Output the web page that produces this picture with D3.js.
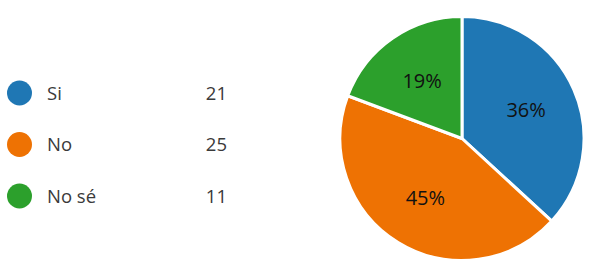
<!DOCTYPE html>
<html>
<head>
<meta charset="utf-8">
<script src="https://cdn.jsdelivr.net/npm/d3@7"></script>
<style>
  html, body { margin: 0; padding: 0; background: #fff; }
  svg { display: block; }
</style>
</head>
<body>
<svg id="chart" width="589" height="267"></svg>
<script>
var answers = ["Si", "No", "No sé"]
var counts  = [21, 25, 11]
var percentLabels = ["36%", "45%", "19%"]
var colors  = ["#1f77b4", "#ee7203", "#2ca02c"]

var svg = d3.select("#chart"),
	width = +svg.attr("width"),
	height = +svg.attr("height");

var data = answers.map((a, i) => ({answer: a, count: counts[i], label: percentLabels[i]}))

var color = d3.scaleOrdinal()
	.domain(answers)
	.range(colors)

// legend
var legendY = d3.scalePoint()
	.domain(answers)
	.range([93, 196])

var legend = svg.append("g")
	.attr("class", "legend")
	.selectAll("g")
	.data(data)
	.enter().append("g")
		.attr("transform", d => `translate(0,${legendY(d.answer)})`)

legend.append("circle")
	.attr("cx", 19.5)
	.attr("r", 12.5)
	.attr("fill", d => color(d.answer))

legend.append("text")
	.attr("x", 47)
	.attr("y", 6.5)
	.attr("font-family", "'Open Sans', sans-serif")
	.attr("font-size", 18.5)
	.attr("fill", "#3a3a3a")
	.text(d => d.answer)

legend.append("text")
	.attr("x", 227)
	.attr("y", 6.5)
	.attr("text-anchor", "end")
	.attr("font-family", "'Open Sans', sans-serif")
	.attr("font-size", 18.5)
	.attr("fill", "#3a3a3a")
	.text(d => d.count)

// pie
var radius = 122
var pie = d3.pie()
	.value(d => d.count)
	.sort(null)

var arc = d3.arc()
	.innerRadius(0)
	.outerRadius(radius)

var labelArc = d3.arc()
	.innerRadius(140)
	.outerRadius(0)

var g = svg.append("g")
	.attr("transform", "translate(462,138.5)")

var arcs = pie(data)

g.selectAll("path")
	.data(arcs)
	.enter().append("path")
		.attr("d", arc)
		.attr("fill", d => color(d.data.answer))
		.attr("stroke", "#fff")
		.attr("stroke-width", 3)
		.attr("stroke-linejoin", "round")

g.selectAll("text")
	.data(arcs)
	.enter().append("text")
		.attr("transform", d => `translate(${labelArc.centroid(d)})`)
		.attr("text-anchor", "middle")
		.attr("dy", "0.35em")
		.attr("font-family", "'Open Sans', sans-serif")
		.attr("font-size", 20)
		.attr("fill", "#111")
		.text(d => d.data.label)
</script>
</body>
</html>
